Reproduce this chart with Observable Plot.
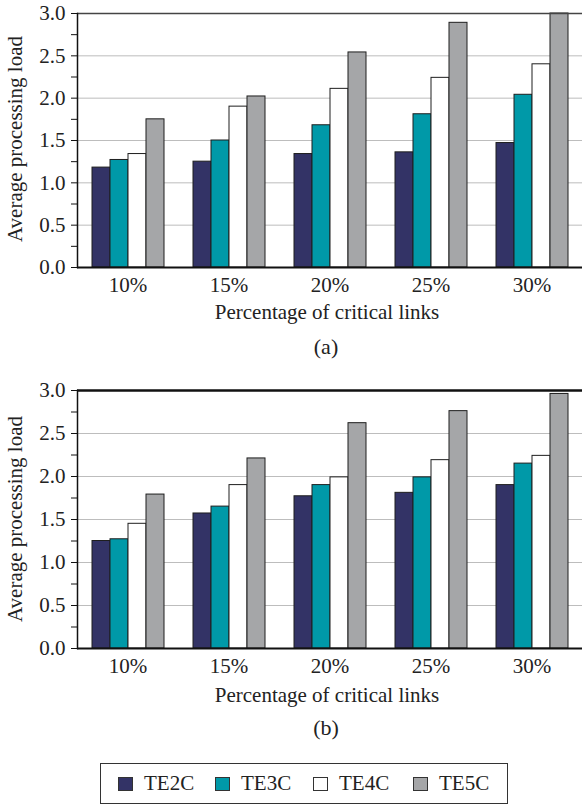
<!DOCTYPE html>
<html>
<head>
<meta charset="utf-8">
<script src="https://cdn.jsdelivr.net/npm/d3@7"></script>
<script src="https://cdn.jsdelivr.net/npm/@observablehq/plot@0.6"></script>
<style>
  body { margin: 0; background: #fff; }
  #page { position: relative; width: 582px; height: 806px; overflow: hidden; font-family: "Liberation Serif", "Times New Roman", serif; color: #222; }
  .panel { position: absolute; left: 0; width: 582px; }
  .ytitle { position: absolute; left: 15px; transform: translate(-50%, -50%) rotate(-90deg); white-space: nowrap; font-size: 21px; }
  .xtitle { position: absolute; left: 327px; transform: translate(-50%, -50%); white-space: nowrap; font-size: 21px; }
  .caption { position: absolute; left: 326px; transform: translate(-50%, -50%); white-space: nowrap; font-size: 22px; }
  #legend { position: absolute; left: 100px; top: 763px; width: 408px; height: 41px; border: 1px solid #333; box-sizing: border-box; font-size: 21px; }
  .item { position: absolute; top: 0; height: 39px; display: flex; align-items: center; }
  .swatch { width: 15px; height: 14px; border: 1px solid #333; box-sizing: border-box; margin-right: 11px; }
</style>
</head>
<body>
<div id="page">
  <div class="panel" id="panelA" style="top:3px"></div>
  <div class="ytitle" style="top:139px">Average processing load</div>
  <div class="xtitle" style="top:312px">Percentage of critical links</div>
  <div class="caption" style="top:347px">(a)</div>

  <div class="panel" id="panelB" style="top:380px"></div>
  <div class="ytitle" style="top:519px">Average processing load</div>
  <div class="xtitle" style="top:695px">Percentage of critical links</div>
  <div class="caption" style="top:728px">(b)</div>

  <div id="legend"></div>
</div>
<script>
// Percentage of critical links on the x axis, one group of bars each
const categories = ["10%", "15%", "20%", "25%", "30%"];
const series = ["TE2C", "TE3C", "TE4C", "TE5C"];
const seriesColors = ["#333366", "#0099a8", "#ffffff", "#a5a6a8"];

// Panel (a): average processing load per scheme
const a_TE2C = [1.18, 1.25, 1.34, 1.36, 1.47];
const a_TE3C = [1.27, 1.50, 1.68, 1.81, 2.04];
const a_TE4C = [1.34, 1.90, 2.11, 2.24, 2.40];
const a_TE5C = [1.75, 2.02, 2.54, 2.89, 3.00];

// Panel (b): average processing load per scheme
const b_TE2C = [1.25, 1.57, 1.77, 1.81, 1.90];
const b_TE3C = [1.27, 1.65, 1.90, 1.99, 2.15];
const b_TE4C = [1.45, 1.90, 1.99, 2.19, 2.24];
const b_TE5C = [1.79, 2.21, 2.62, 2.76, 2.96];

const yTicks = d3.range(0, 3.001, 0.25);
const gridValues = [0.5, 1.0, 1.5, 2.0, 2.5];

function toRows(columns) {
  const rows = [];
  categories.forEach((pct, i) => {
    series.forEach((s, j) => rows.push({pct, series: s, value: columns[j][i]}));
  });
  return rows;
}

function panel(rows, height, topStroke, topWidth) {
  return Plot.plot({
    width: 582,
    height,
    marginTop: 10,
    marginBottom: 32,
    marginLeft: 76,
    marginRight: 0,
    style: {fontFamily: "'Liberation Serif', 'Times New Roman', serif", fontSize: "21px", color: "#222", background: "transparent", overflow: "visible"},
    fx: {domain: categories, padding: 0, label: null, tickSize: 0, tickPadding: 10},
    x: {domain: series, axis: null, paddingInner: 0, paddingOuter: 0.66},
    y: {domain: [0, 3], axis: null},
    color: {domain: series, range: seriesColors},
    marks: [
      Plot.ruleY(gridValues, {stroke: "#bdbdbd", strokeWidth: 1}),
      Plot.barY(rows, {fx: "pct", x: "series", y: "value", fill: "series", stroke: "#1e1e1e", strokeWidth: 1, inset: 0}),
      Plot.ruleY([3], {stroke: topStroke, strokeWidth: topWidth}),
      Plot.ruleY([0], {stroke: "#111", strokeWidth: 2}),
      Plot.frame({anchor: "left", facetAnchor: "left", stroke: "#111", strokeWidth: 1.5}),
      Plot.axisY({
        ticks: yTicks,
        tickFormat: d => (Math.abs(d * 2 - Math.round(d * 2)) < 1e-9 ? d.toFixed(1) : ""),
        tickSize: 6,
        tickPadding: 6,
        label: null,
        stroke: "#111",
        fill: "#222"
      })
    ]
  });
}

document.getElementById("panelA").append(panel(toRows([a_TE2C, a_TE3C, a_TE4C, a_TE5C]), 296, "#444", 1.5));
document.getElementById("panelB").append(panel(toRows([b_TE2C, b_TE3C, b_TE4C, b_TE5C]), 300, "#111", 2.5));

// Legend
const legend = document.getElementById("legend");
const itemLeft = [17, 114, 212, 312];
series.forEach((s, i) => {
  const item = document.createElement("div");
  item.className = "item";
  item.style.left = itemLeft[i] + "px";
  const sw = document.createElement("span");
  sw.className = "swatch";
  sw.style.background = seriesColors[i];
  const label = document.createElement("span");
  label.textContent = s;
  item.append(sw, label);
  legend.append(item);
});
</script>
</body>
</html>
